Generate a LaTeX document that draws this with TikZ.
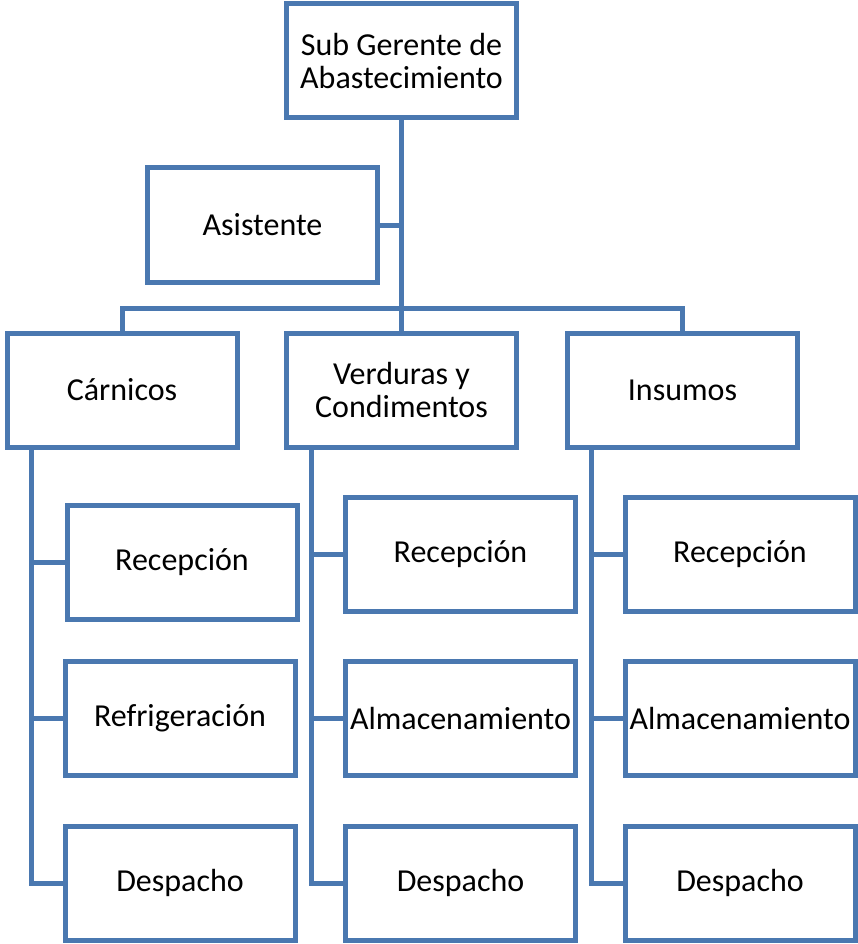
\documentclass[tikz,border=0pt]{standalone}
\usepackage{fontspec}
\setmainfont{Carlito}
\definecolor{orgblue}{RGB}{74,120,176}
\begin{document}
\begin{tikzpicture}[x=1pt,y=-1pt,
  box/.style={draw=orgblue,line width=5pt,fill=white,minimum width=230pt,minimum height=114pt,
    inner sep=0pt,align=center,font=\fontsize{32}{33}\selectfont},
  link/.style={draw=orgblue,line width=5pt}]
\useasboundingbox (0,0) rectangle (857,944);
% boxes
\node[box] (top)  at (401.5,61) {Sub Gerente de\\Abastecimiento};
\node[box] (asis) at (262.5,225) {Asistente};
\node[box] (carn) at (122,390) {Cárnicos};
\node[box] (verd) at (401.5,390) {Verduras y\\Condimentos};
\node[box] (ins)  at (682.5,390) {Insumos};
\node[box] (cRec) at (182,562) {Recepción};
\node[box] (cRef) at (180,718) {Refrigeración};
\node[box] (cDes) at (180,883) {Despacho};
\node[box] (vRec) at (460.5,554) {Recepción};
\node[box] (vAlm) at (460.5,718) {Almacenamiento};
\node[box] (vDes) at (460.5,883) {Despacho};
\node[box] (iRec) at (740,554) {Recepción};
\node[box] (iAlm) at (740,718) {Almacenamiento};
\node[box] (iDes) at (740,883) {Despacho};
% trunk and branches
\coordinate (bar) at (401.5,308);
\coordinate (cSpine) at (31,447);
\coordinate (vSpine) at (311,447);
\coordinate (iSpine) at (591,447);
\draw[link] (top.south) -- (verd.north);
\draw[link] (asis.east) -- (asis.east -| top.south);
\draw[link] (carn.north) |- (bar) -| (ins.north);
\draw[link] (cSpine) |- (cDes.west);
\draw[link] (cRec.west) -- (cRec.west -| cSpine);
\draw[link] (cRef.west) -- (cRef.west -| cSpine);
\draw[link] (vSpine) |- (vDes.west);
\draw[link] (vRec.west) -- (vRec.west -| vSpine);
\draw[link] (vAlm.west) -- (vAlm.west -| vSpine);
\draw[link] (iSpine) |- (iDes.west);
\draw[link] (iRec.west) -- (iRec.west -| iSpine);
\draw[link] (iAlm.west) -- (iAlm.west -| iSpine);
\end{tikzpicture}
\end{document}
